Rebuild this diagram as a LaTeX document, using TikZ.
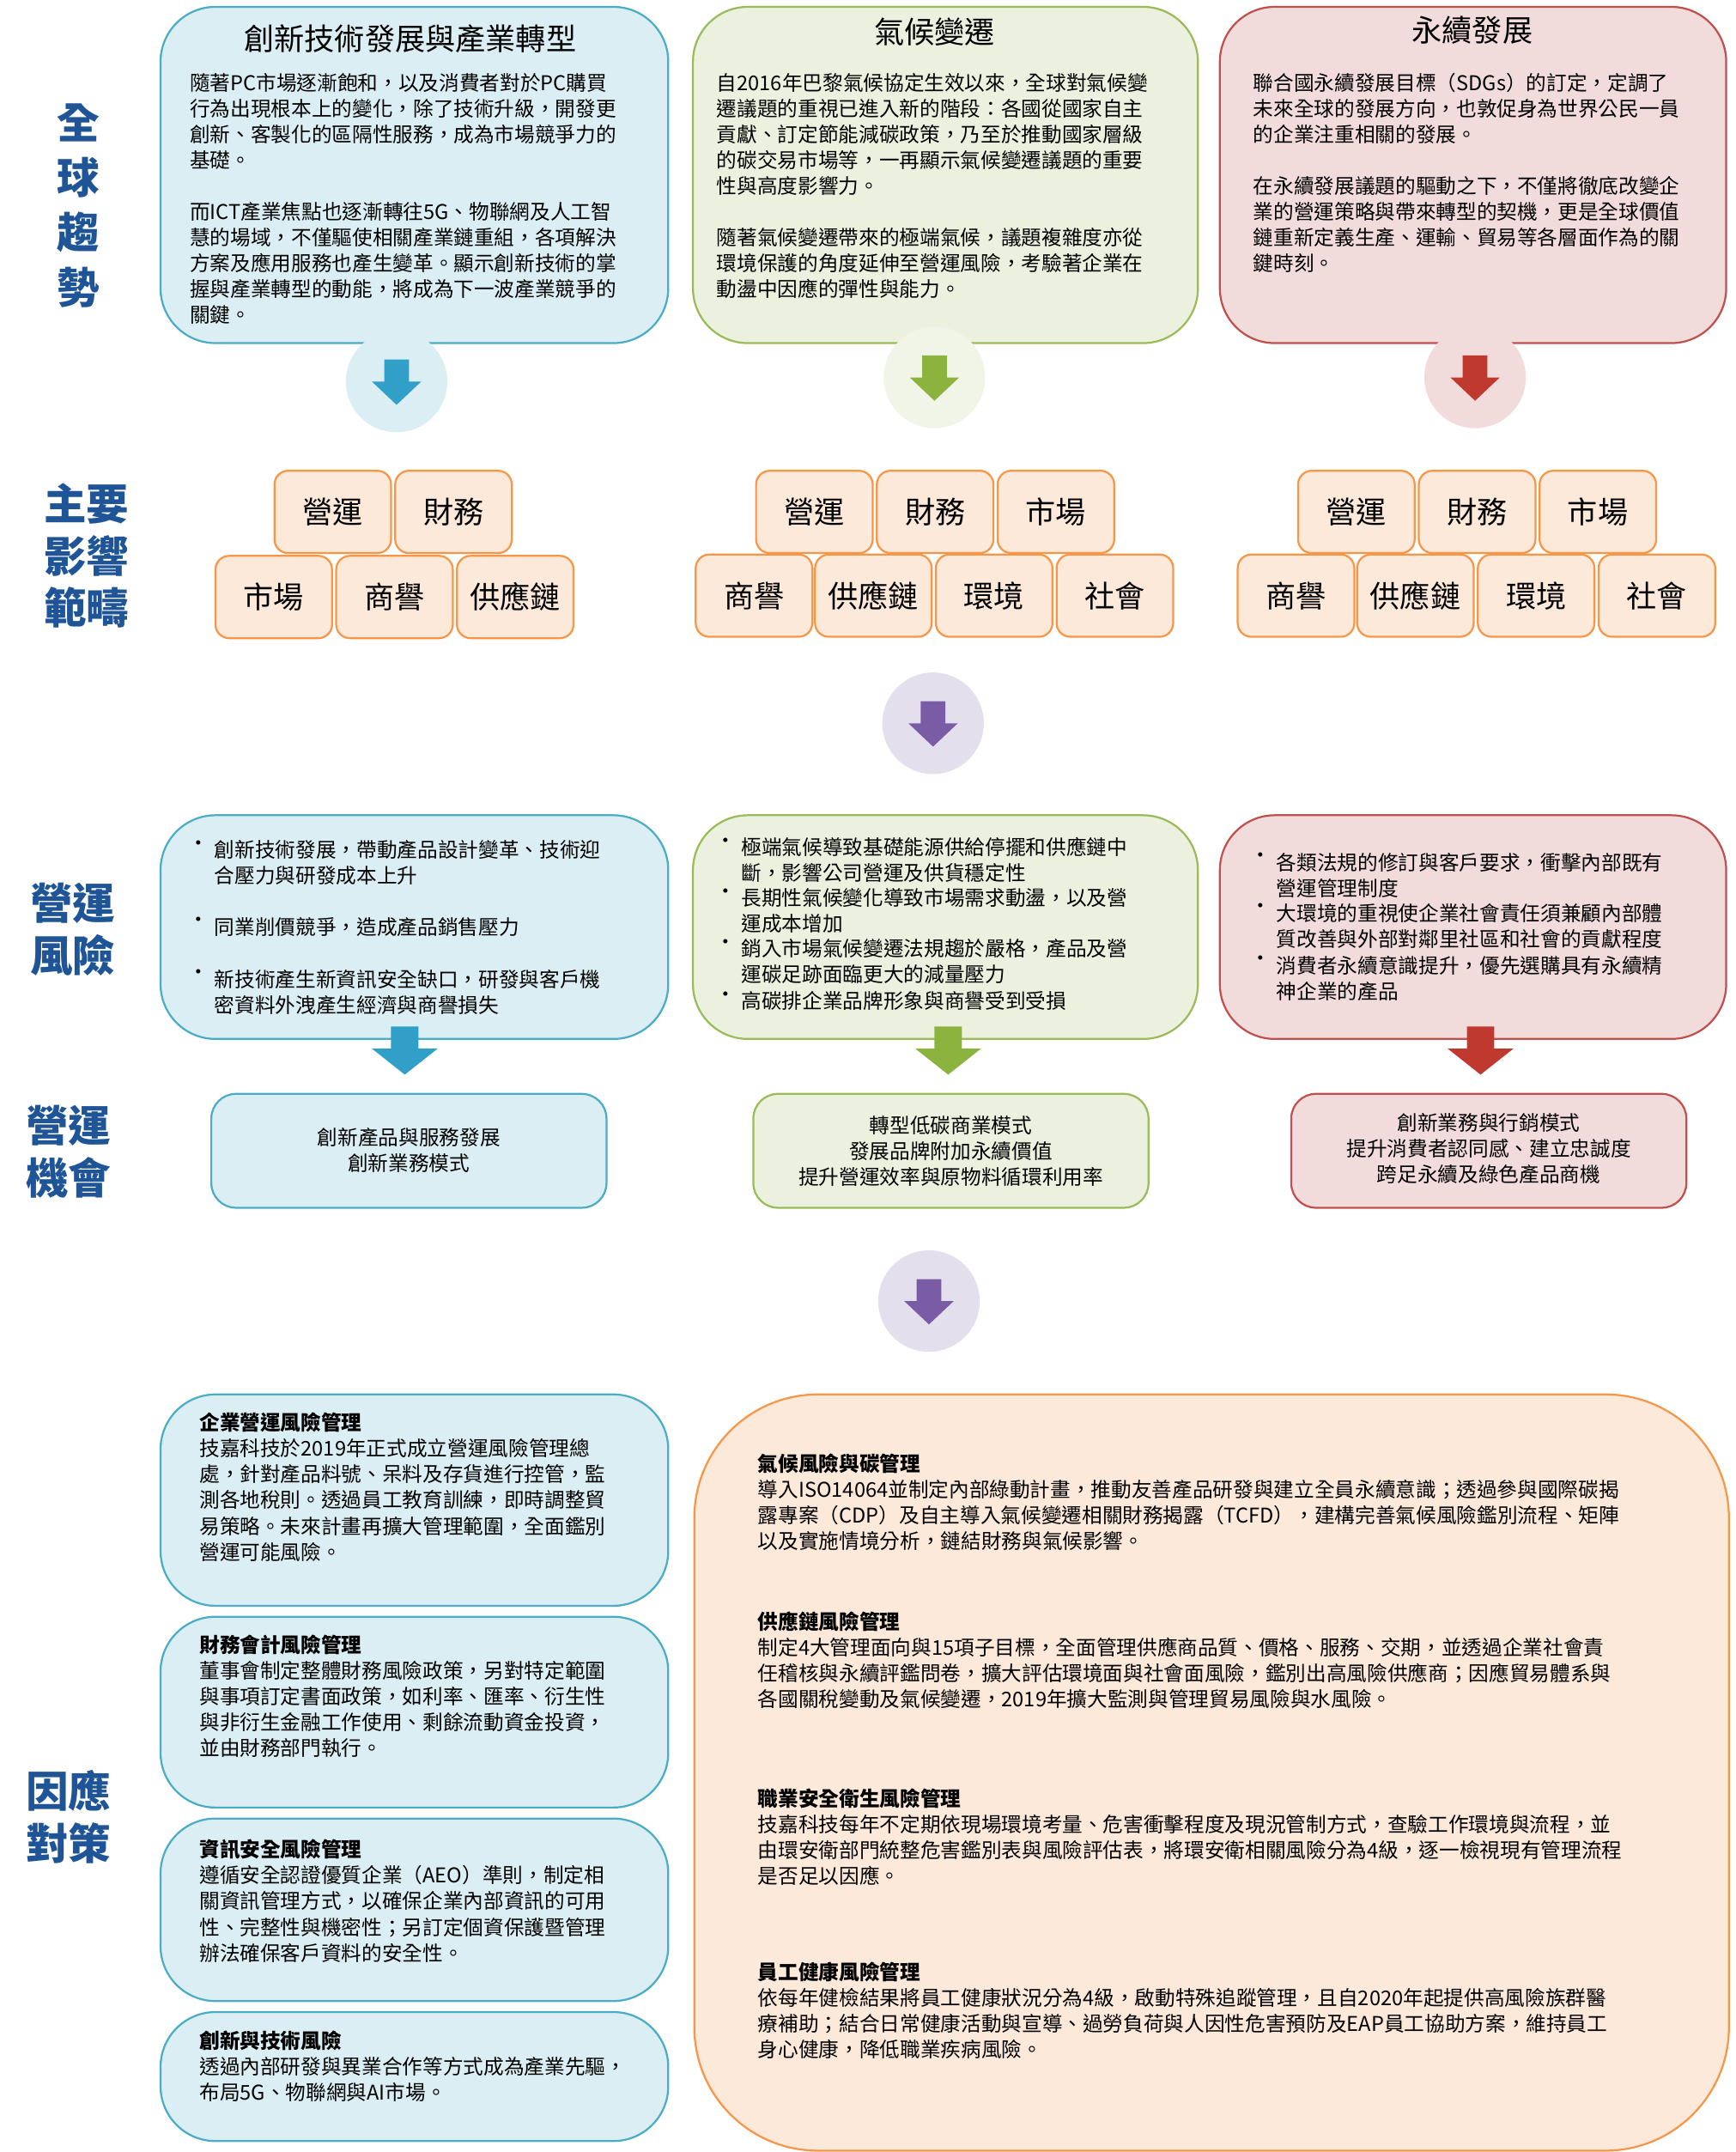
\documentclass[tikz,border=0pt]{standalone}
\usepackage{fontspec}
\setmainfont{Noto Sans CJK TC}
\usetikzlibrary{positioning}
\definecolor{bF}{HTML}{DAEEF3}\definecolor{bD}{HTML}{4BACC6}\definecolor{bA}{HTML}{31A0C8}
\definecolor{gF}{HTML}{EBF1DE}\definecolor{gD}{HTML}{9BBB59}\definecolor{gA}{HTML}{8DB33F}
\definecolor{rF}{HTML}{F2DCDB}\definecolor{rD}{HTML}{C0504D}\definecolor{rA}{HTML}{C0392F}
\definecolor{oF}{HTML}{FDE9D9}\definecolor{oD}{HTML}{F79646}
\definecolor{pF}{HTML}{E4DFEC}\definecolor{pA}{HTML}{7A5BA6}
\definecolor{lab}{HTML}{1F5597}
\newcommand\bigarr[3]{\fill[#3] (#1-9,#2-16) -- (#1+9,#2-16) -- (#1+9,#2) -- (#1+18,#2) -- (#1,#2+17) -- (#1-18,#2) -- (#1-9,#2) -- cycle;}
\tikzset{
 box/.style={draw, line width=0.7pt, rounded corners=20pt},
 body/.style={anchor=north west, align=left, inner sep=0, font=\fontsize{7.4}{9.4}\selectfont},
 ctr/.style={align=center, inner sep=0, font=\fontsize{7.4}{9.4}\selectfont},
 ttl/.style={inner sep=0, font=\fontsize{11}{13}\selectfont},
 lbl/.style={align=center, inner sep=0, text=lab, font=\fontsize{15.5}{19}\selectfont\bfseries},
 tag/.style={draw=oD, fill=oF, line width=0.7pt, rounded corners=5pt, minimum width=42.5pt, minimum height=30pt, inner sep=0, font=\fontsize{11}{13}\selectfont},
 bul/.style={anchor=north west, inner sep=0, font=\fontsize{7.4}{9.4}\selectfont},
}
\begin{document}
\begin{tikzpicture}[x=0.5pt,y=-0.5pt]
\useasboundingbox (0,0) rectangle (1265,1568);
% left labels
\node[lbl] (l1) at (57,150) {全\\[1pt]球\\[1pt]趨\\[1pt]勢};
\node[lbl] (l2) at (63,405) {主要\\影響\\範疇};
\node[lbl] (l3) at (53,677) {營運\\風險};
\node[lbl] (l4) at (50,839) {營運\\機會};
\node[lbl] (l5) at (50,1324) {因應\\對策};
% top boxes
\draw[box,draw=bD,fill=bF] (117,5) rectangle (487,250);
\draw[box,draw=gD,fill=gF] (505,5) rectangle (873,250);
\draw[box,draw=rD,fill=rF] (889,5) rectangle (1258,250);
\node[ttl] (t1) at (299,28) {創新技術發展與產業轉型};
\node[ttl] (t2) at (681,23) {氣候變遷};
\node[ttl] (t3) at (1073,22) {永續發展};
\node[body] (b1) at (138,53) {隨著PC市場逐漸飽和，以及消費者對於PC購買\\行為出現根本上的變化，除了技術升級，開發更\\創新、客製化的區隔性服務，成為市場競爭力的\\基礎。\\[9.4pt]而ICT產業焦點也逐漸轉往5G、物聯網及人工智\\慧的場域，不僅驅使相關產業鏈重組，各項解決\\方案及應用服務也產生變革。顯示創新技術的掌\\握與產業轉型的動能，將成為下一波產業競爭的\\關鍵。};
\node[body] (b2) at (522,53) {自2016年巴黎氣候協定生效以來，全球對氣候變\\遷議題的重視已進入新的階段：各國從國家自主\\貢獻、訂定節能減碳政策，乃至於推動國家層級\\的碳交易市場等，一再顯示氣候變遷議題的重要\\性與高度影響力。\\[9.4pt]隨著氣候變遷帶來的極端氣候，議題複雜度亦從\\環境保護的角度延伸至營運風險，考驗著企業在\\動盪中因應的彈性與能力。};
\node[body] (b3) at (913,53) {聯合國永續發展目標（SDGs）的訂定，定調了\\未來全球的發展方向，也敦促身為世界公民一員\\的企業注重相關的發展。\\[9.4pt]在永續發展議題的驅動之下，不僅將徹底改變企\\業的營運策略與帶來轉型的契機，更是全球價值\\鏈重新定義生產、運輸、貿易等各層面作為的關\\鍵時刻。};
% circle arrows
\node[circle,fill=bF,minimum size=37pt,inner sep=0] (c1) at (289,278) {};
\node[circle,fill=gF!80!gD!40,minimum size=37pt,inner sep=0] (c2) at (681,275) {};
\node[circle,fill=rF,minimum size=37pt,inner sep=0] (c3) at (1075,275) {};
\node[circle,fill=pF,minimum size=37pt,inner sep=0] (c4) at (680,527) {};
\node[circle,fill=pF,minimum size=37pt,inner sep=0] (c5) at (677,948) {};
\bigarr{289}{278}{bA}\bigarr{681}{275}{gA}\bigarr{1075}{275}{rA}
\bigarr{680}{527}{pA}\bigarr{677}{948}{pA}
% tags
\node[tag] (a1) at (242.5,373) {營運};
\node[tag] (a2) at (330.5,373) {財務};
\node[tag] (a3) at (199.5,435) {市場};
\node[tag] (a4) at (287.5,435) {商譽};
\node[tag] (a5) at (375.5,435) {供應鏈};
\node[tag] (m1) at (593.5,373) {營運};
\node[tag] (m2) at (681.5,373) {財務};
\node[tag] (m3) at (769.5,373) {市場};
\node[tag] (m4) at (549.5,434) {商譽};
\node[tag] (m5) at (636.5,434) {供應鏈};
\node[tag] (m6) at (724.5,434) {環境};
\node[tag] (m7) at (812.5,434) {社會};
\node[tag] (r1) at (988.5,373) {營運};
\node[tag] (r2) at (1076.5,373) {財務};
\node[tag] (r3) at (1164.5,373) {市場};
\node[tag] (r4) at (944.5,434) {商譽};
\node[tag] (r5) at (1031.5,434) {供應鏈};
\node[tag] (r6) at (1119.5,434) {環境};
\node[tag] (r7) at (1207.5,434) {社會};
% risk boxes
\draw[box,draw=bD,fill=bF] (117,594) rectangle (487,757);
\draw[box,draw=gD,fill=gF] (505,594) rectangle (873,757);
\draw[box,draw=rD,fill=rF] (889,594) rectangle (1258,757);
\node[bul] (k1) at (137,612) {•}; \node[body] (k1t) at (156,612) {創新技術發展，帶動產品設計變革、技術迎\\合壓力與研發成本上升};
\node[bul] (k2) at (137,668) {•}; \node[body] (k2t) at (156,668) {同業削價競爭，造成產品銷售壓力};
\node[bul] (k3) at (137,706) {•}; \node[body] (k3t) at (156,706) {新技術產生新資訊安全缺口，研發與客戶機\\密資料外洩產生經濟與商譽損失};
\node[bul] (g1) at (521,610) {•}; \node[body] (g1t) at (540,610) {極端氣候導致基礎能源供給停擺和供應鏈中\\斷，影響公司營運及供貨穩定性};
\node[bul] (g2) at (521,647) {•}; \node[body] (g2t) at (540,647) {長期性氣候變化導致市場需求動盪，以及營\\運成本增加};
\node[bul] (g3) at (521,684) {•}; \node[body] (g3t) at (540,684) {銷入市場氣候變遷法規趨於嚴格，產品及營\\運碳足跡面臨更大的減量壓力};
\node[bul] (g4) at (521,722) {•}; \node[body] (g4t) at (540,722) {高碳排企業品牌形象與商譽受到受損};
\node[bul] (q1) at (911,621) {•}; \node[body] (q1t) at (930,621) {各類法規的修訂與客戶要求，衝擊內部既有\\營運管理制度};
\node[bul] (q2) at (911,658) {•}; \node[body] (q2t) at (930,658) {大環境的重視使企業社會責任須兼顧內部體\\質改善與外部對鄰里社區和社會的貢獻程度};
\node[bul] (q3) at (911,696) {•}; \node[body] (q3t) at (930,696) {消費者永續意識提升，優先選購具有永續精\\神企業的產品};
% plain arrows
\fill[bA] (285,748) -- (305,748) -- (305,764) -- (319,764) -- (295,783) -- (271,764) -- (285,764) -- cycle;
\fill[gA] (681,748) -- (701,748) -- (701,764) -- (715,764) -- (691,783) -- (667,764) -- (681,764) -- cycle;
\fill[rA] (1069,748) -- (1089,748) -- (1089,764) -- (1103,764) -- (1079,783) -- (1055,764) -- (1069,764) -- cycle;
% opportunity boxes
\draw[box,rounded corners=9pt,draw=bD,fill=bF] (154,797) rectangle (442,880);
\draw[box,rounded corners=9pt,draw=gD,fill=gF] (549,797) rectangle (837,880);
\draw[box,rounded corners=9pt,draw=rD,fill=rF] (941,797) rectangle (1229,880);
\node[ctr] (o1) at (298,838) {創新產品與服務發展\\創新業務模式};
\node[ctr] (o2) at (693,839) {轉型低碳商業模式\\發展品牌附加永續價值\\提升營運效率與原物料循環利用率};
\node[ctr] (o3) at (1085,837) {創新業務與行銷模式\\提升消費者認同感、建立忠誠度\\跨足永續及綠色產品商機};
% bottom left
\draw[box,draw=bD,fill=bF] (117,1016) rectangle (487,1170);
\draw[box,draw=bD,fill=bF] (117,1178) rectangle (487,1317);
\draw[box,draw=bD,fill=bF] (117,1325) rectangle (487,1458);
\draw[box,draw=bD,fill=bF] (117,1466) rectangle (487,1560);
\node[body] (d1) at (145,1029) {\textbf{企業營運風險管理}\\技嘉科技於2019年正式成立營運風險管理總\\處，針對產品料號、呆料及存貨進行控管，監\\測各地稅則。透過員工教育訓練，即時調整貿\\易策略。未來計畫再擴大管理範圍，全面鑑別\\營運可能風險。};
\node[body] (d2) at (145,1191) {\textbf{財務會計風險管理}\\董事會制定整體財務風險政策，另對特定範圍\\與事項訂定書面政策，如利率、匯率、衍生性\\與非衍生金融工作使用、剩餘流動資金投資，\\並由財務部門執行。};
\node[body] (d3) at (145,1340) {\textbf{資訊安全風險管理}\\遵循安全認證優質企業（AEO）準則，制定相\\關資訊管理方式，以確保企業內部資訊的可用\\性、完整性與機密性；另訂定個資保護暨管理\\辦法確保客戶資料的安全性。};
\node[body] (d4) at (145,1479) {\textbf{創新與技術風險}\\透過內部研發與異業合作等方式成為產業先驅，\\布局5G、物聯網與AI市場。};
% big box
\draw[box,rounded corners=45pt,draw=oD,fill=oF] (506,1016) rectangle (1260,1567);
\node[body] (e1) at (552,1059) {\textbf{氣候風險與碳管理}\\導入ISO14064並制定內部綠動計畫，推動友善產品研發與建立全員永續意識；透過參與國際碳揭\\露專案（CDP）及自主導入氣候變遷相關財務揭露（TCFD），建構完善氣候風險鑑別流程、矩陣\\以及實施情境分析，鏈結財務與氣候影響。};
\node[body] (e2) at (552,1174) {\textbf{供應鏈風險管理}\\制定4大管理面向與15項子目標，全面管理供應商品質、價格、服務、交期，並透過企業社會責\\任稽核與永續評鑑問卷，擴大評估環境面與社會面風險，鑑別出高風險供應商；因應貿易體系與\\各國關稅變動及氣候變遷，2019年擴大監測與管理貿易風險與水風險。};
\node[body] (e3) at (552,1303) {\textbf{職業安全衛生風險管理}\\技嘉科技每年不定期依現場環境考量、危害衝擊程度及現況管制方式，查驗工作環境與流程，並\\由環安衛部門統整危害鑑別表與風險評估表，將環安衛相關風險分為4級，逐一檢視現有管理流程\\是否足以因應。};
\node[body] (e4) at (552,1429) {\textbf{員工健康風險管理}\\依每年健檢結果將員工健康狀況分為4級，啟動特殊追蹤管理，且自2020年起提供高風險族群醫\\療補助；結合日常健康活動與宣導、過勞負荷與人因性危害預防及EAP員工協助方案，維持員工\\身心健康，降低職業疾病風險。};
\end{tikzpicture}
\end{document}
